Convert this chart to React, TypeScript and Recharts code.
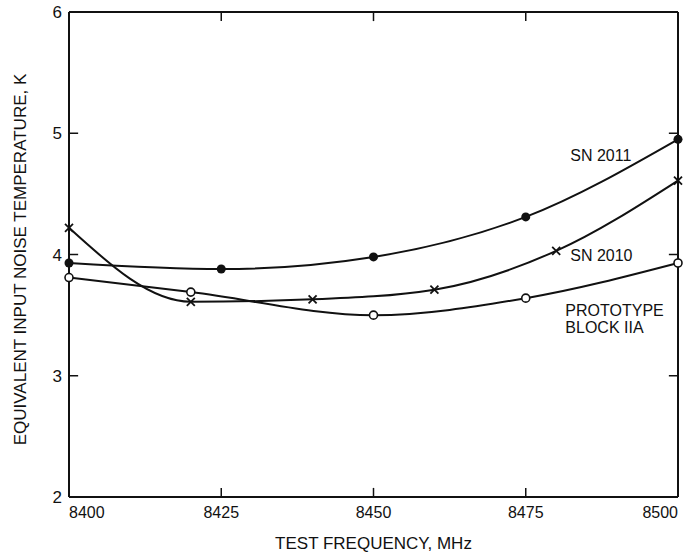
import {
  LineChart,
  Line,
  XAxis,
  YAxis,
  ReferenceDot,
  ReferenceLine,
} from "recharts";

// test frequencies (MHz) and noise temperature (K)
const sn2011Freq = [8400, 8425, 8450, 8475, 8500];
const sn2011Temp = [3.93, 3.88, 3.98, 4.31, 4.95];

const sn2010Freq = [8400, 8420, 8440, 8460, 8480, 8500];
const sn2010Temp = [4.22, 3.61, 3.63, 3.71, 4.03, 4.61];

const protoFreq = [8400, 8420, 8450, 8475, 8500];
const protoTemp = [3.81, 3.69, 3.5, 3.64, 3.93];

const freqTicks = [8400, 8425, 8450, 8475, 8500];
const tempTicks = [2, 3, 4, 5, 6];

const ink = "#111";
const font = "'Liberation Sans', Arial, sans-serif";

// layout: plot box edges in px
const AXIS_X = 69;
const AXIS_Y = 497;

const toRows = (f: number[], t: number[]) =>
  f.map((freq, i) => ({ freq, temp: t[i] }));

const sn2011 = toRows(sn2011Freq, sn2011Temp);
const sn2010 = toRows(sn2010Freq, sn2010Temp);
const proto = toRows(protoFreq, protoTemp);

const innerFreq = freqTicks.slice(1, -1);
const innerTemp = tempTicks.slice(1, -1);
// inward tick length in data units (~9px)
const tickDy = 0.075;
const tickDx = 1.5;

const FilledDot = (p: any) => (
  <circle key={`f-${p.index}`} cx={p.cx} cy={p.cy} r={4.5} fill={ink} />
);

const OpenDot = (p: any) => (
  <circle
    key={`o-${p.index}`}
    cx={p.cx}
    cy={p.cy}
    r={4}
    fill="#fff"
    stroke={ink}
    strokeWidth={1.6}
  />
);

const CrossDot = (p: any) => (
  <g key={`x-${p.index}`} stroke={ink} strokeWidth={1.8}>
    <line x1={p.cx - 4} y1={p.cy - 4} x2={p.cx + 4} y2={p.cy + 4} />
    <line x1={p.cx - 4} y1={p.cy + 4} x2={p.cx + 4} y2={p.cy - 4} />
  </g>
);

const BottomTick = (p: any) => {
  const v = p.payload.value;
  const anchor =
    v === freqTicks[0] ? "start" : v === freqTicks[freqTicks.length - 1] ? "end" : "middle";
  return (
    <text x={p.x} y={AXIS_Y + 21} textAnchor={anchor} fontSize={16} fontFamily={font} fill={ink}>
      {v}
    </text>
  );
};

const LeftTick = (p: any) => (
  <text
    x={AXIS_X - 7}
    y={p.y}
    dy="0.36em"
    textAnchor="end"
    fontSize={17}
    fontFamily={font}
    fill={ink}
  >
    {p.payload.value}
  </text>
);

const YTitle = (p: any) => {
  const { y, height } = p.viewBox;
  const cx = 20;
  const cy = y + height / 2 + 5;
  return (
    <text
      x={cx}
      y={cy}
      dy="0.36em"
      transform={`rotate(-90, ${cx}, ${cy})`}
      textAnchor="middle"
      fontSize={17}
      fontFamily={font}
      fill={ink}
    >
      EQUIVALENT INPUT NOISE TEMPERATURE, K
    </text>
  );
};

const noteLabel = (value: string) => ({
  value,
  position: "right" as const,
  offset: 0,
  fontSize: 16,
  fontFamily: font,
  fill: ink,
});

export default function App() {
  return (
    <div style={{ position: "absolute", left: 0, top: 0, background: "#fff" }}>
      <LineChart
        width={698}
        height={553}
        margin={{ top: 11, right: 19, bottom: 55, left: 0 }}
      >
        <XAxis
          dataKey="freq"
          type="number"
          domain={[8400, 8500]}
          ticks={freqTicks}
          height={1}
          tickLine={false}
          tickSize={0}
          tickMargin={0}
          tick={<BottomTick />}
          axisLine={{ stroke: ink, strokeWidth: 2 }}
          allowDuplicatedCategory={false}
          label={{
            value: "TEST FREQUENCY, MHz",
            position: "bottom",
            offset: 39,
            fontSize: 17,
            fontFamily: font,
            fill: ink,
          }}
        />
        <XAxis
          xAxisId="top"
          orientation="top"
          type="number"
          domain={[8400, 8500]}
          height={1}
          tick={false}
          tickLine={false}
          axisLine={{ stroke: ink, strokeWidth: 2 }}
        />
        <YAxis
          type="number"
          domain={[2, 6]}
          ticks={tempTicks}
          width={69}
          tickLine={false}
          tickSize={0}
          tickMargin={0}
          tick={<LeftTick />}
          axisLine={{ stroke: ink, strokeWidth: 2 }}
          label={{ content: <YTitle /> }}
        />
        <YAxis
          yAxisId="right"
          orientation="right"
          type="number"
          domain={[2, 6]}
          width={1}
          tick={false}
          tickLine={false}
          axisLine={{ stroke: ink, strokeWidth: 2 }}
        />

        {innerFreq.map((f) => (
          <ReferenceLine
            key={`b-${f}`}
            segment={[{ x: f, y: 2 }, { x: f, y: 2 + tickDy }]}
            stroke={ink}
            strokeWidth={1.5}
          />
        ))}
        {innerFreq.map((f) => (
          <ReferenceLine
            key={`t-${f}`}
            segment={[{ x: f, y: 6 }, { x: f, y: 6 - tickDy }]}
            stroke={ink}
            strokeWidth={1.5}
          />
        ))}
        {innerTemp.map((t) => (
          <ReferenceLine
            key={`l-${t}`}
            segment={[{ x: 8400, y: t }, { x: 8400 + tickDx, y: t }]}
            stroke={ink}
            strokeWidth={1.5}
          />
        ))}
        {innerTemp.map((t) => (
          <ReferenceLine
            key={`r-${t}`}
            segment={[{ x: 8500, y: t }, { x: 8500 - tickDx, y: t }]}
            stroke={ink}
            strokeWidth={1.5}
          />
        ))}

        <Line
          data={sn2011}
          dataKey="temp"
          type="monotone"
          stroke={ink}
          strokeWidth={2}
          dot={FilledDot}
          activeDot={false}
          isAnimationActive={false}
        />
        <Line
          data={sn2010}
          dataKey="temp"
          type="monotone"
          stroke={ink}
          strokeWidth={2}
          dot={CrossDot}
          activeDot={false}
          isAnimationActive={false}
        />
        <Line
          data={proto}
          dataKey="temp"
          type="monotone"
          stroke={ink}
          strokeWidth={2}
          dot={OpenDot}
          activeDot={false}
          isAnimationActive={false}
        />

        <ReferenceDot x={8482.3} y={4.82} r={0} stroke="none" label={noteLabel("SN 2011")} />
        <ReferenceDot x={8482.3} y={3.99} r={0} stroke="none" label={noteLabel("SN 2010")} />
        <ReferenceDot x={8481.5} y={3.54} r={0} stroke="none" label={noteLabel("PROTOTYPE")} />
        <ReferenceDot x={8481.5} y={3.4} r={0} stroke="none" label={noteLabel("BLOCK IIA")} />
      </LineChart>
    </div>
  );
}
